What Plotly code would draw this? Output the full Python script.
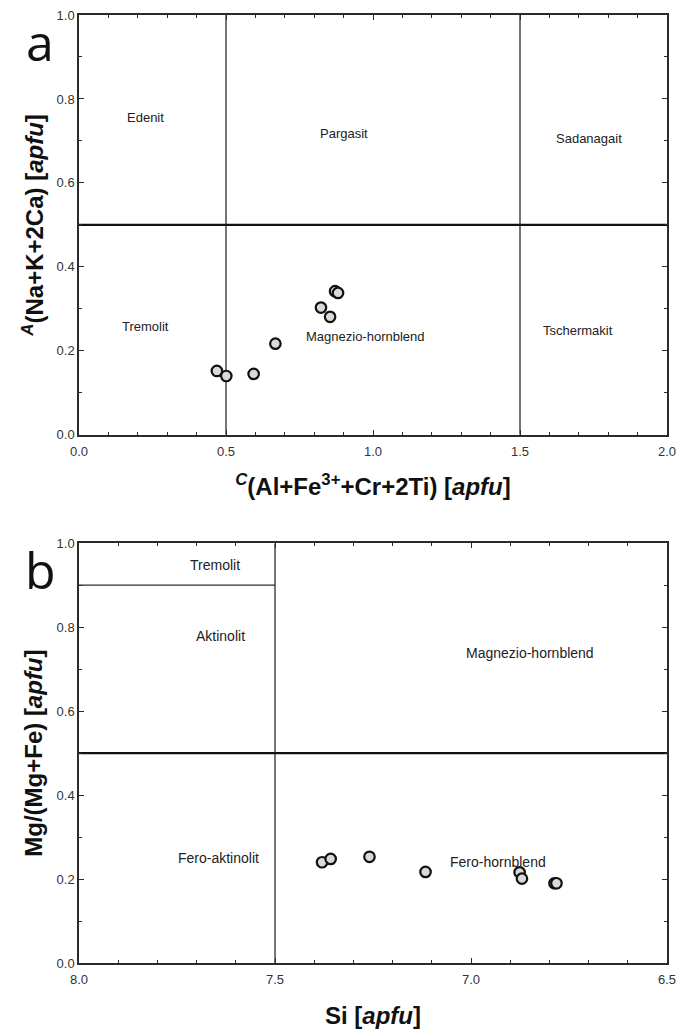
import plotly.graph_objects as go
from plotly.subplots import make_subplots

# Panel a data: C(Al+Fe3+ +Cr+2Ti) vs A(Na+K+2Ca)
a_x = [0.469, 0.501, 0.594, 0.668, 0.823, 0.854, 0.871, 0.881]
a_y = [0.152, 0.140, 0.145, 0.217, 0.303, 0.281, 0.342, 0.338]

# Panel b data: Si vs Mg/(Mg+Fe)
b_x = [7.380, 7.358, 7.259, 7.116, 6.876, 6.870, 6.787, 6.782]
b_y = [0.240, 0.248, 0.253, 0.217, 0.216, 0.201, 0.190, 0.190]

# Field labels
a_labels = ["Edenit", "Pargasit", "Sadanagait", "Tremolit", "Magnezio-hornblend", "Tschermakit"]
a_lab_x = [0.225, 0.90, 1.736, 0.226, 0.975, 1.698]
a_lab_y = [0.756, 0.718, 0.706, 0.259, 0.235, 0.249]

b_labels = ["Tremolit", "Aktinolit", "Magnezio-hornblend", "Fero-aktinolit", "Fero-hornblend"]
b_lab_x = [7.654, 7.639, 6.849, 7.644, 6.930]
b_lab_y = [0.948, 0.780, 0.739, 0.251, 0.241]

FONT = "Liberation Sans, Arial, sans-serif"
LINE = "#2b2b2b"

fig = make_subplots(rows=2, cols=1, vertical_spacing=0.0)

marker = dict(size=10.5, color="#d9d9d9", line=dict(color="#111111", width=2.2))
fig.add_trace(go.Scatter(x=a_x, y=a_y, mode="markers", marker=marker, showlegend=False), row=1, col=1)
fig.add_trace(go.Scatter(x=b_x, y=b_y, mode="markers", marker=marker, showlegend=False), row=2, col=1)

# field boundaries
shapes = [
    dict(type="line", xref="x", yref="y", x0=0.5, x1=0.5, y0=0, y1=1, line=dict(color=LINE, width=1.3), layer="below"),
    dict(type="line", xref="x", yref="y", x0=1.5, x1=1.5, y0=0, y1=1, line=dict(color=LINE, width=1.3), layer="below"),
    dict(type="line", xref="x", yref="y", x0=0, x1=2, y0=0.5, y1=0.5, line=dict(color="#111111", width=2.2), layer="below"),
    dict(type="line", xref="x2", yref="y2", x0=7.5, x1=7.5, y0=0, y1=1, line=dict(color=LINE, width=1.3), layer="below"),
    dict(type="line", xref="x2", yref="y2", x0=8.0, x1=7.5, y0=0.9, y1=0.9, line=dict(color=LINE, width=1.3), layer="below"),
    dict(type="line", xref="x2", yref="y2", x0=8.0, x1=6.5, y0=0.5, y1=0.5, line=dict(color="#111111", width=2.2), layer="below"),
]

annotations = []
for t, x, y in zip(a_labels, a_lab_x, a_lab_y):
    annotations.append(dict(text=t, x=x, y=y, xref="x", yref="y", showarrow=False,
                            font=dict(family=FONT, size=13, color="#222222")))
for t, x, y in zip(b_labels, b_lab_x, b_lab_y):
    annotations.append(dict(text=t, x=x, y=y, xref="x2", yref="y2", showarrow=False,
                            font=dict(family=FONT, size=14, color="#222222")))

annotations.append(dict(text="a", x=-0.066, y=1.01, xref="paper", yref="paper", showarrow=False,
                        xanchor="center", yanchor="top", font=dict(family="Open Sans, DejaVu Sans", size=50, color="#111111")))
annotations.append(dict(text="b", x=-0.066, y=0.4428 + 0.01, xref="paper", yref="paper", showarrow=False,
                        xanchor="center", yanchor="top", font=dict(family="Open Sans, DejaVu Sans", size=50, color="#111111")))

axis_common = dict(showline=True, linecolor=LINE, linewidth=1.5, mirror="ticks",
                   ticks="inside", ticklen=5, tickwidth=1.2, tickcolor=LINE,
                   showgrid=False, zeroline=False, automargin=False,
                   ticklabeloverflow="allow",
                   tickfont=dict(family=FONT, size=13, color="#333333"),
                   minor=dict(ticks="inside", dtick=0.1, ticklen=3, tickcolor=LINE, showgrid=False))

title_font = dict(family=FONT, size=24, color="#111111")

fig.update_xaxes(axis_common, row=1, col=1, range=[0, 2], dtick=0.5, tick0=0, tickformat=".1f",
                 ticklabelstandoff=4,
                 title=dict(text="<b><sup><i>C</i></sup>(Al+Fe<sup>3+</sup>+Cr+2Ti) [<i>apfu</i>]</b>",
                            font=title_font, standoff=20))
fig.update_yaxes(axis_common, row=1, col=1, range=[0, 1], dtick=0.2, tick0=0, tickformat=".1f",
                 title=dict(text="<b><sup><i>A</i></sup>(Na+K+2Ca) [<i>apfu</i>]</b>",
                            font=title_font, standoff=6))
fig.update_xaxes(axis_common, row=2, col=1, range=[8.0, 6.5], dtick=0.5, tick0=0, tickformat=".1f",
                 ticklabelstandoff=4,
                 title=dict(text="<b>Si [<i>apfu</i>]</b>", font=title_font, standoff=21))
fig.update_yaxes(axis_common, row=2, col=1, range=[0, 1], dtick=0.2, tick0=0, tickformat=".1f",
                 title=dict(text="<b>Mg/(Mg+Fe) [<i>apfu</i>]</b>", font=title_font, standoff=7))

fig.update_layout(
    width=690, height=1032,
    margin=dict(l=71, r=31, t=7, b=77, autoexpand=False),
    paper_bgcolor="white", plot_bgcolor="white",
    shapes=shapes, annotations=annotations,
    font=dict(family=FONT),
)
fig.layout.yaxis.domain = [0.5572, 1.0]
fig.layout.yaxis2.domain = [0.0, 0.4428]

fig.write_html("out.html")
